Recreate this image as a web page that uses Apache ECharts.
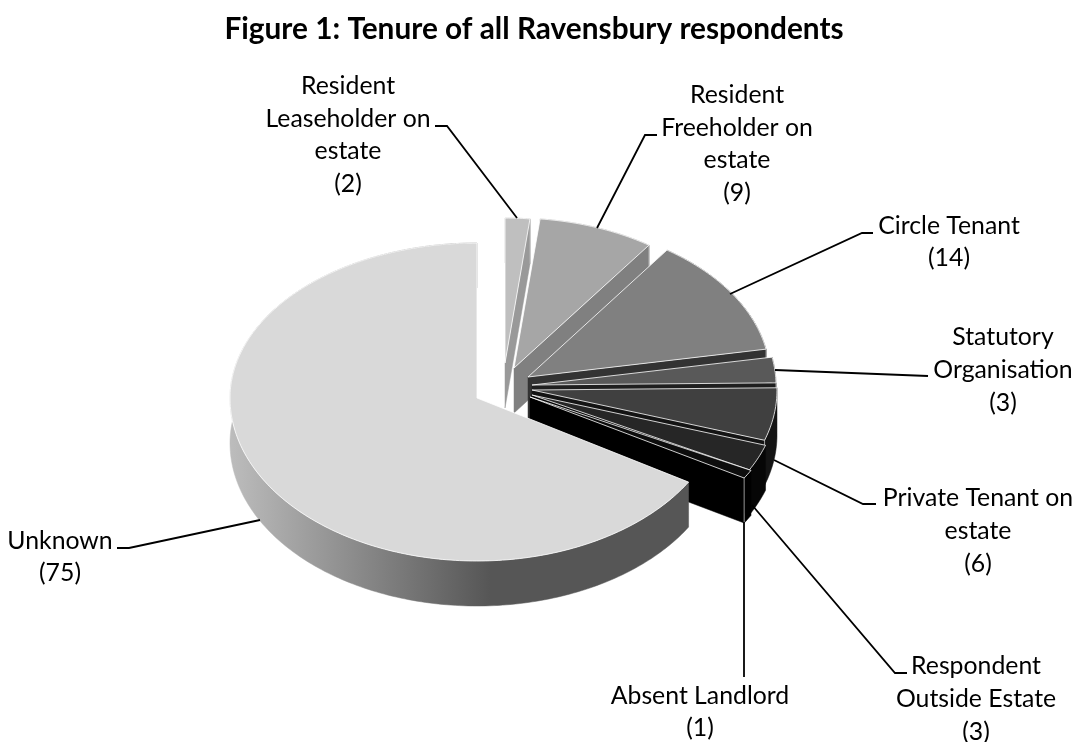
<!DOCTYPE html>
<html>
<head>
<meta charset="utf-8">
<style>html,body{margin:0;padding:0;background:#fff}#c{width:1076px;height:742px}</style>
<script src="https://cdn.jsdelivr.net/npm/echarts@6/dist/echarts.min.js"></script>
</head>
<body>
<div id="c"></div>
<script>
var titleText = 'Figure 1: Tenure of all Ravensbury respondents';
var categories = ['Resident Leaseholder on estate','Resident Freeholder on estate','Circle Tenant','Statutory Organisation','Private Tenant on estate','Respondent Outside Estate','Absent Landlord','Unknown'];
var values = [2, 9, 14, 3, 6, 3, 1, 75];

var labelLines = ['Resident\nLeaseholder on\nestate','Resident\nFreeholder on\nestate','Circle Tenant','Statutory\nOrganisation','Private Tenant on\nestate','Respondent\nOutside Estate','Absent Landlord','Unknown'];

// Styling of each slice (exploded 3-D look)
var topColors  = ['#bfbfbf','#a6a6a6','#808080','#595959','#404040','#262626','#0d0d0d','#d9d9d9'];
var sideColors = ['#999999','#808080','#333333','#1f1f1f','#141414','#060606','#000000','#555555'];
var apexX   = [505, 514, 528, 532, 532, 532, 530, 477];
var apexY   = [363, 368, 377, 385, 390, 395, 397, 398];
var radiusX = [225, 235, 242, 244, 245, 246, 250, 247];
var radiusUp   = [145, 150, 155, 155, 160, 160, 157, 155];
var radiusDown = [145, 150, 155, 155, 160, 160, 157, 163];
var depth = 45;

var labelX = [348, 737, 949, 1003, 978, 976, 700, 60];
var labelY = [135, 144, 242, 370, 531, 699, 712, 557];
var leaders = [
  [[435,126],[447,126],[517,218]],
  [[657,135],[645,135],[597,228]],
  [[873,233],[862,233],[730,294]],
  [[928,376],[775,370]],
  [[876,504],[863,504],[774,460]],
  [[907,673],[895,673],[752,505]],
  [[744,677],[744,522]],
  [[117,548],[129,548],[260,520]]
];

var FONT = 'Lato, "Open Sans", sans-serif';
var total = values.reduce(function (a, b) { return a + b; }, 0);
var cum = [0];
values.forEach(function (v, i) { cum.push(cum[i] + v); });

function angleOf(c) { return echarts.number.linearMap(c, [0, total], [0, Math.PI * 2]); }
function rim(i, a, dz) {
  var c = Math.cos(a);
  return [apexX[i] + radiusX[i] * Math.sin(a), apexY[i] - c * (c > 0 ? radiusUp[i] : radiusDown[i]) + (dz || 0)];
}
function arc(i, a0, a1, dz) {
  var n = Math.max(2, Math.ceil((a1 - a0) / (Math.PI / 180))), pts = [];
  for (var k = 0; k <= n; k++) pts.push(rim(i, a0 + (a1 - a0) * k / n, dz));
  return pts;
}

function renderItem(params, api) {
  var i = params.dataIndex;
  var v = api.value(0);
  var a0 = angleOf(cum[i]), a1 = angleOf(cum[i] + v);
  var apex = [apexX[i], apexY[i]];
  var apexLow = [apexX[i], apexY[i] + depth];
  var kids = [];
  var isLast = a1 >= Math.PI * 2 - 1e-6;
  // outer wall
  var wallFill = isLast
    ? new echarts.graphic.LinearGradient(231, 0, 490, 0, [{offset:0,color:'#bcbcbc'},{offset:1,color:'#565656'}], true)
    : sideColors[i];
  kids.push({type:'polygon', shape:{points: arc(i,a0,a1,0).concat(arc(i,a0,a1,depth).reverse())},
    style:{fill:wallFill, stroke:wallFill, lineWidth:0.5}});
  // cut wall facing viewer
  if (!isLast) {
    var e = rim(i,a1,0), el = rim(i,a1,depth);
    kids.push({type:'polygon', shape:{points:[apex,e,el,apexLow]},
      style:{fill:sideColors[i], stroke:sideColors[i], lineWidth:0.5}});
    kids.push({type:'polyline', shape:{points:[e,el]}, style:{fill:null, stroke:'#bdbdbd', lineWidth:0.8}});
  }
  // top face
  kids.push({type:'polygon', shape:{points:[apex].concat(arc(i,a0,a1,0))},
    style:{fill:topColors[i], stroke:'#ffffff', lineWidth:0.8}});
  // leader
  kids.push({type:'polyline', z2:5, shape:{points:leaders[i]}, style:{fill:null, stroke:'#000', lineWidth:1.8}});
  // label
  kids.push({type:'text', z2:6, style:{
    text: labelLines[i] + '\n(' + v + ')', x: labelX[i], y: labelY[i],
    align:'center', verticalAlign:'middle', fill:'#000',
    font:'400 24.8px ' + FONT, lineHeight:32.7
  }});
  return {type:'group', children:kids};
}

var chart = echarts.init(document.getElementById('c'), null, {renderer:'canvas'});
chart.setOption({
  animation:false,
  backgroundColor:'#fff',
  title:{text:titleText, left:529, top:9, textAlign:'center',
    textStyle:{fontFamily:FONT, fontWeight:'bold', fontSize:29.8, color:'#000'}},
  tooltip:{show:false},
  series:[{
    type:'custom', coordinateSystem:'none', silent:true,
    renderItem:renderItem,
    data: values.map(function (v, i) { return {name:categories[i], value:[v]}; })
  }]
});
</script>
</body>
</html>
